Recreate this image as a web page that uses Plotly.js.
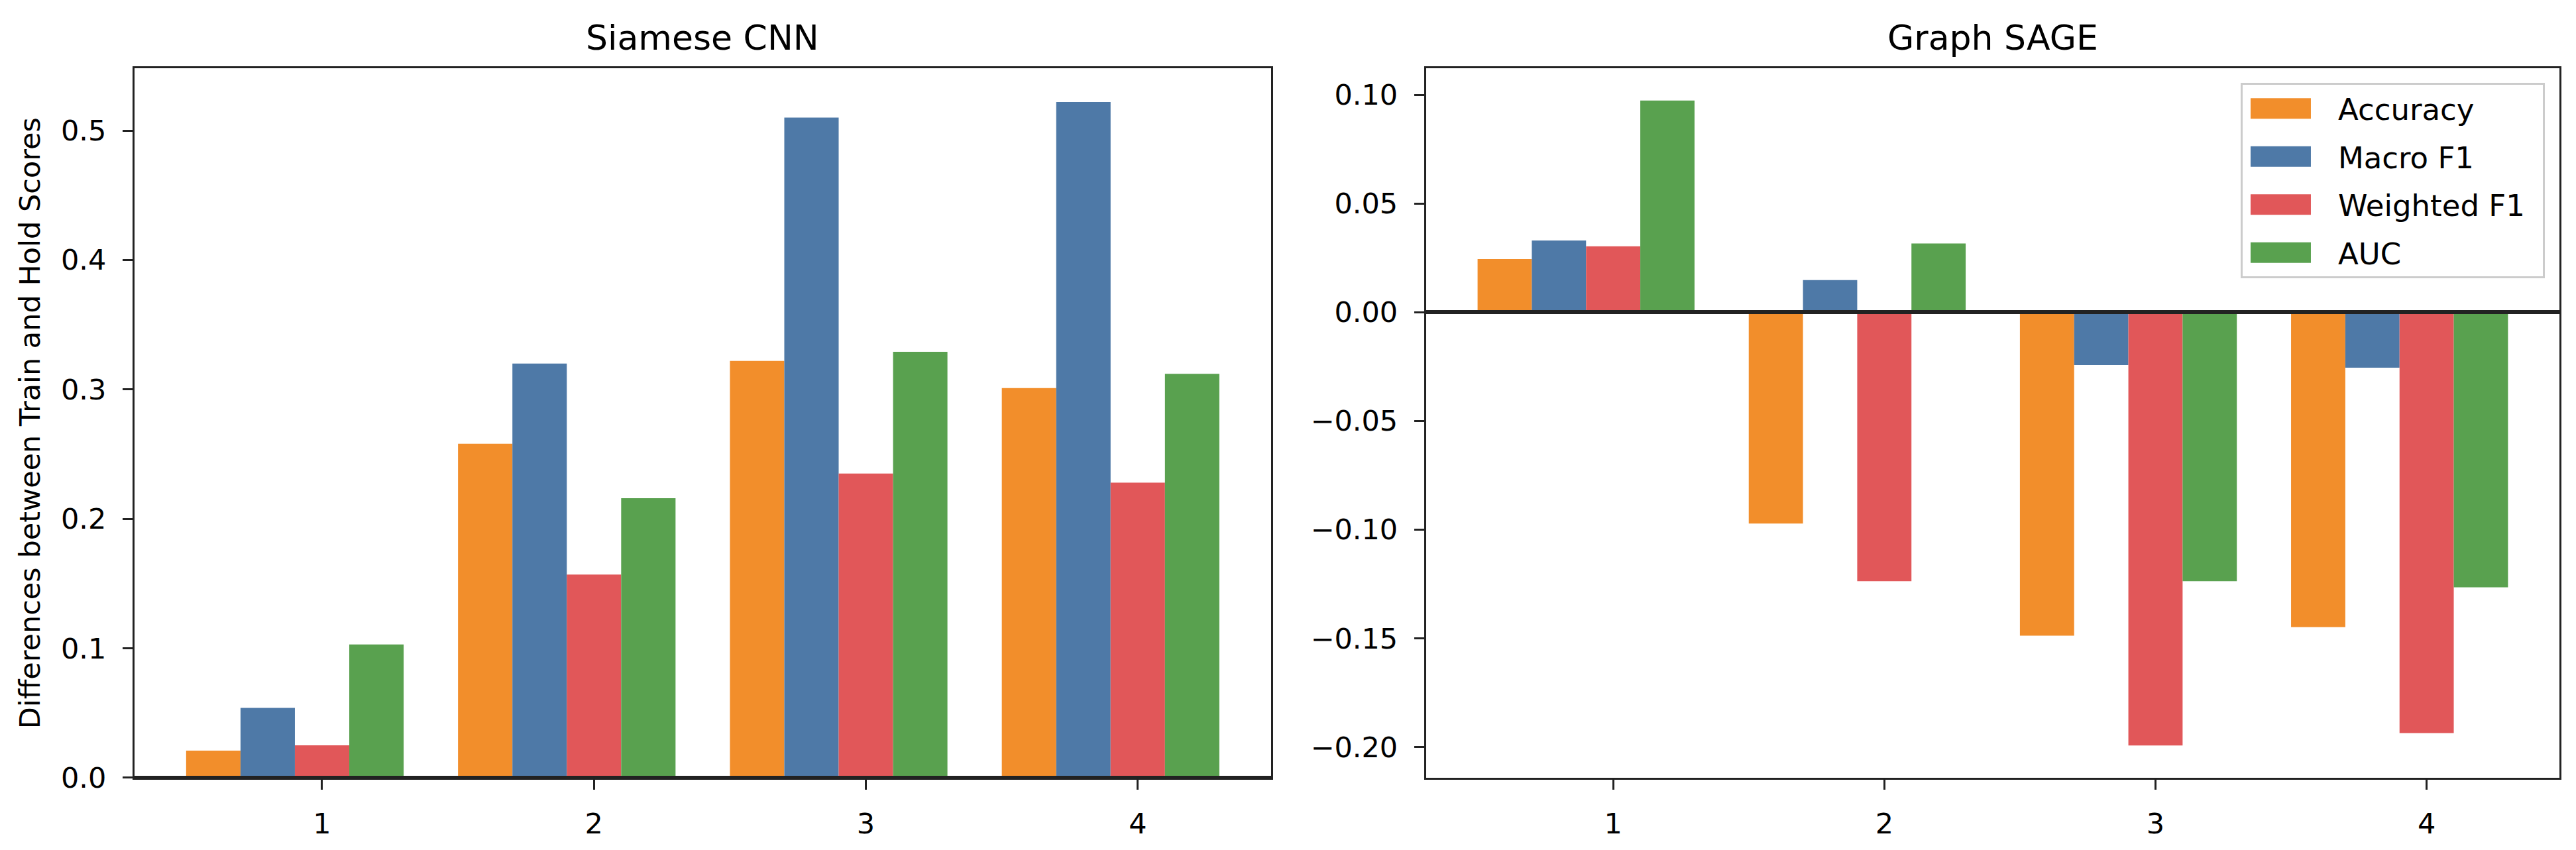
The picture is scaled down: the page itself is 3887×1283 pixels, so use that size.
<!DOCTYPE html>
<html>
<head>
<meta charset="utf-8">
<script src="https://cdn.plot.ly/plotly-3.0.1.min.js"></script>
<style>
  html, body { margin: 0; padding: 0; background: #fff; }
  #chart { width: 3887px; height: 1283px; }
</style>
</head>
<body>
<div id="chart"></div>
<script>
/* ─── data: train minus hold-out score, per fold ─── */
const folds = [1, 2, 3, 4];
const metrics = ['Accuracy', 'Macro F1', 'Weighted F1', 'AUC'];

const siameseAccuracy   = [0.021, 0.258, 0.322, 0.301];
const siameseMacroF1    = [0.054, 0.320, 0.510, 0.522];
const siameseWeightedF1 = [0.025, 0.157, 0.235, 0.228];
const siameseAUC        = [0.103, 0.216, 0.329, 0.312];

const sageAccuracy   = [0.0245, -0.0972, -0.1488, -0.1448];
const sageMacroF1    = [0.0330,  0.0148, -0.0243, -0.0255];
const sageWeightedF1 = [0.0303, -0.1237, -0.1993, -0.1936];
const sageAUC        = [0.0974,  0.0316, -0.1237, -0.1265];

const siamese = [siameseAccuracy, siameseMacroF1, siameseWeightedF1, siameseAUC];
const sage = [sageAccuracy, sageMacroF1, sageWeightedF1, sageAUC];

/* ─── style ─── */
const FONT = 'DejaVu Sans, Verdana, sans-serif';
const COLORS = ['#F28E2B', '#4E79A7', '#E15759', '#59A14F'];
const BAR_W = 0.2;
const BAR_OFFSET = [-0.5, -0.3, -0.1, 0.1];   // left edge relative to the fold tick
const INK = '#222222';

// matplotlib-ish autoscale: 5% margin, bars stick to zero
function padRange(series) {
  const all = [].concat(...series);
  const lo = Math.min(0, ...all), hi = Math.max(0, ...all);
  const pad = (hi - lo) * 0.05;
  return [lo < 0 ? lo - pad : 0, hi + pad];
}

const traces = [];
metrics.forEach((name, i) => {
  traces.push({
    type: 'bar', x: folds, y: siamese[i], name, legendgroup: name, showlegend: false,
    width: BAR_W, offset: BAR_OFFSET[i], marker: { color: COLORS[i], line: { width: 0 } },
    xaxis: 'x', yaxis: 'y', hoverinfo: 'skip'
  });
});
metrics.forEach((name, i) => {
  traces.push({
    type: 'bar', x: folds, y: sage[i], name, legendgroup: name, showlegend: true,
    width: BAR_W, offset: BAR_OFFSET[i], marker: { color: COLORS[i], line: { width: 0 } },
    xaxis: 'x2', yaxis: 'y2', hoverinfo: 'skip'
  });
});

const AXIS = {
  showline: true, mirror: true, linecolor: INK, linewidth: 3,
  ticks: 'outside', ticklen: 15, tickwidth: 3, tickcolor: INK,
  showgrid: false, zeroline: false, fixedrange: true,
  tickfont: { family: FONT, size: 43, color: '#000' }
};
const X_AXIS = { ...AXIS, range: [0.31, 4.49], tickvals: folds, ticktext: folds.map(String), ticklabelstandoff: 14 };
const Y_AXIS = { ...AXIS, zeroline: true, zerolinecolor: INK, zerolinewidth: 6, zerolinelayer: 'above traces', ticklabelstandoff: 16 };

const Y_DOMAIN = [0.0850, 0.9197];

const layout = {
  width: 3887, height: 1283,
  margin: { l: 0, r: 0, t: 0, b: 0 },
  paper_bgcolor: '#fff', plot_bgcolor: '#fff',
  barmode: 'overlay',
  font: { family: FONT, size: 43, color: '#000' },
  xaxis:  { ...X_AXIS, domain: [0.0522, 0.4934], anchor: 'y' },
  xaxis2: { ...X_AXIS, domain: [0.5536, 0.9936], anchor: 'y2' },
  yaxis:  { ...Y_AXIS, domain: Y_DOMAIN, anchor: 'x', range: padRange(siamese), tickvals: [0, 0.1, 0.2, 0.3, 0.4, 0.5], tickformat: '.1f' },
  yaxis2: { ...Y_AXIS, domain: Y_DOMAIN, anchor: 'x2', range: padRange(sage), tick0: 0, dtick: 0.05, tickformat: '.2f' },
  legend: {
    x: 0.9879, xanchor: 'right', y: 0.9026, yanchor: 'top',
    bgcolor: 'rgba(255,255,255,0.8)', bordercolor: '#cccccc', borderwidth: 3,
    font: { family: FONT, size: 45, color: '#000' },
    itemwidth: 156, traceorder: 'grouped', tracegroupgap: 11
  },
  annotations: [
    { text: 'Siamese CNN', xref: 'paper', yref: 'paper', x: (0.0522 + 0.4934) / 2, y: 0.9306,
      xanchor: 'center', yanchor: 'bottom', showarrow: false, font: { family: FONT, size: 52, color: '#000' } },
    { text: 'Graph SAGE', xref: 'paper', yref: 'paper', x: (0.5536 + 0.9936) / 2, y: 0.9306,
      xanchor: 'center', yanchor: 'bottom', showarrow: false, font: { family: FONT, size: 52, color: '#000' } },
    { text: 'Differences between Train and Hold Scores', xref: 'paper', yref: 'paper', x: 0.0118, y: (Y_DOMAIN[0] + Y_DOMAIN[1]) / 2,
      xanchor: 'center', yanchor: 'middle', textangle: -90, showarrow: false, font: { family: FONT, size: 43, color: '#000' } }
  ]
};

Plotly.newPlot('chart', traces, layout, { displayModeBar: false, staticPlot: true }).then(gd => {
  // matplotlib-style wide legend patches instead of plotly's 12px squares
  gd.querySelectorAll('.legend .legendpoints path').forEach(p => {
    p.setAttribute('d', 'M20,15.5H-71V-15.5H20Z');
  });
  gd.querySelectorAll('.legend text.legendtext').forEach(t => {
    t.setAttribute('transform', 'translate(-22,0)');
  });
});
</script>
</body>
</html>
